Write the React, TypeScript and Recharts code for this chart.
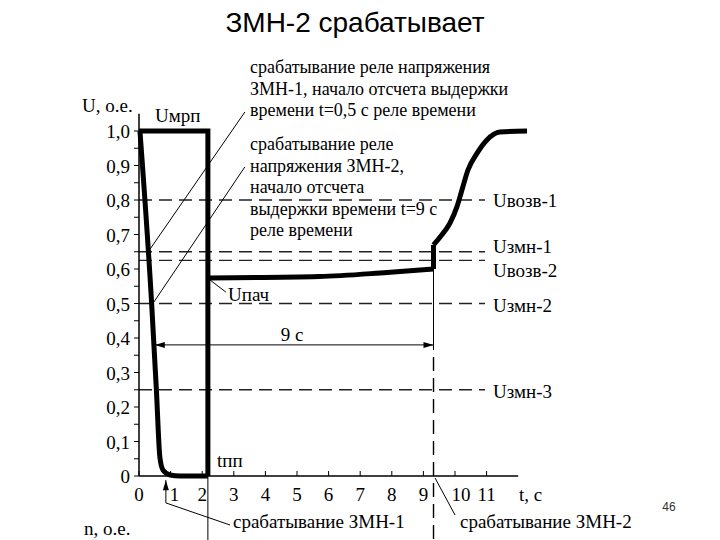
import React from 'react';
import { LineChart, Line, XAxis, YAxis, ReferenceLine } from 'recharts';

// ---- data ----
const xTicks = [0, 1, 2, 3, 4, 5, 6, 7, 8, 9, 10, 11];
const yTicks = [0, 0.05, 0.1, 0.15, 0.2, 0.25, 0.3, 0.35, 0.4, 0.45, 0.5, 0.55, 0.6, 0.65, 0.7, 0.75, 0.8, 0.85, 0.9, 0.95, 1.0];

const tPickup = 2.18; // tпп
const tTrip2 = 9.32; // срабатывание ЗМН-2
const xAxisEnd = 12;

const uDescent = [
  { t: 0.03, u: 1.0 },
  { t: 0.4, u: 0.5 },
  { t: 0.55, u: 0.25 },
  { t: 0.66, u: 0.055 },
  { t: 0.76, u: 0.017 },
  { t: 0.98, u: 0.003 },
  { t: 1.3, u: 0 },
  { t: 2.18, u: 0 },
];

const uMrpFrame = [
  { t: 0, u: 1.0 },
  { t: 2.18, u: 1.0 },
  { t: 2.18, u: 0 },
];

const uPlateau = [
  { t: 2.18, u: 0.574 },
  { t: 5.7, u: 0.578 },
  { t: 7.85, u: 0.59 },
  { t: 9.32, u: 0.6 },
];

const uJump = [
  { t: 9.32, u: 0.6 },
  { t: 9.32, u: 0.67 },
];

const uRecovery = [
  { t: 9.32, u: 0.67 },
  { t: 9.53, u: 0.693 },
  { t: 9.84, u: 0.733 },
  { t: 10.06, u: 0.78 },
  { t: 10.22, u: 0.829 },
  { t: 10.41, u: 0.887 },
  { t: 10.7, u: 0.936 },
  { t: 11.01, u: 0.974 },
  { t: 11.42, u: 0.997 },
  { t: 12.28, u: 1.0 },
];

const thresholdNames = ['Uвозв-1', 'Uзмн-1', 'Uвозв-2', 'Uзмн-2', 'Uзмн-3'];
const thresholdValues = [0.8, 0.65, 0.625, 0.5, 0.25];
const thresholdEnd = 10.95;
const delayLevel = 0.38;
const delayStart = 0.5;

// ---- styling helpers ----
const SERIF = "'Liberation Serif', 'DejaVu Serif', serif";
const SANS = "'Liberation Sans', Arial, sans-serif";
const labelBaselines = [207, 253, 277, 312, 398];

const makeArrow = (start: boolean, end: boolean) => (p: any) => {
  const { x1, y1, x2, y2 } = p;
  const dx = x2 - x1;
  const dy = y2 - y1;
  const len = Math.hypot(dx, dy) || 1;
  const ux = dx / len;
  const uy = dy / len;
  const nx = -uy;
  const ny = ux;
  const L = 10;
  const W = 3;
  const head = (px: number, py: number, sx: number, sy: number) =>
    `${px},${py} ${px - sx * L + nx * W},${py - sy * L + ny * W} ${px - sx * L - nx * W},${py - sy * L - ny * W}`;
  return (
    <g>
      <line x1={x1} y1={y1} x2={x2} y2={y2} stroke="#000" strokeWidth={1} />
      {end && <polygon points={head(x2, y2, ux, uy)} fill="#000" />}
      {start && <polygon points={head(x1, y1, -ux, -uy)} fill="#000" />}
    </g>
  );
};

const XTick = (props: any) => {
  const { x, y, payload } = props;
  const v = payload.value;
  const shift = v === 10 ? 6 : v === 1 ? 4 : 0;
  return (
    <g>
      <line x1={x} x2={x} y1={y - 5} y2={y} stroke="#000" strokeWidth={1} />
      <text x={x + shift} y={y + 25} textAnchor="middle" fontFamily={SERIF} fontSize={19} fill="#000">
        {String(v)}
      </text>
    </g>
  );
};

const YTick = (props: any) => {
  const { x, y, payload } = props;
  const v = payload.value;
  const major = Math.round(v * 100) % 10 === 0;
  const label = v === 0 ? '0' : v.toFixed(1).replace('.', ',');
  return (
    <g>
      <line x1={x - 5} x2={x} y1={y} y2={y} stroke="#000" strokeWidth={1} />
      {major && (
        <text x={x - 9} y={y + 7} textAnchor="end" fontFamily={SERIF} fontSize={19} fill="#000">
          {label}
        </text>
      )}
    </g>
  );
};

const thick = { stroke: '#000', strokeWidth: 5, dot: false, activeDot: false, isAnimationActive: false } as const;

export default function App() {
  const T = (x: number, y: number, s: string, opts: any = {}) => (
    <text
      x={x}
      y={y}
      fontFamily={opts.font || SERIF}
      fontSize={opts.size || 18}
      textAnchor={opts.anchor || 'start'}
      fill={opts.fill || '#000'}
    >
      {s}
    </text>
  );
  return (
    <div style={{ position: 'absolute', left: 0, top: 0, width: 720, height: 540, background: '#fff', overflow: 'hidden' }}>
      <LineChart width={720} height={540} margin={{ top: 113.75, right: 170.2, bottom: 34, left: 79 }}>
        <XAxis
          dataKey="t"
          type="number"
          domain={[0, 13]}
          ticks={xTicks}
          interval={0}
          tick={<XTick />}
          tickLine={false}
          axisLine={false}
          tickSize={0}
          tickMargin={0}
          height={30}
        />
        <YAxis
          type="number"
          domain={[0, 1.05]}
          ticks={yTicks}
          interval={0}
          tick={<YTick />}
          tickLine={false}
          axisLine={{ stroke: '#000', strokeWidth: 1.5 }}
          tickSize={0}
          tickMargin={0}
          width={60}
        />
        {/* x axis line */}
        <ReferenceLine segment={[{ x: 0, y: 0 }, { x: xAxisEnd, y: 0 }]} stroke="#000" strokeWidth={1.5} ifOverflow="visible" />
        {/* threshold dashed lines */}
        {thresholdValues.map((v, i) => (
          <ReferenceLine
            key={thresholdNames[i]}
            segment={[{ x: 0, y: v }, { x: thresholdEnd, y: v }]}
            stroke="#222"
            strokeWidth={1.4}
            strokeDasharray="13 7"
            ifOverflow="visible"
          />
        ))}
        {/* tпп thin continuation below the axis */}
        <ReferenceLine segment={[{ x: tPickup, y: 0 }, { x: tPickup, y: -0.2 }]} stroke="#000" strokeWidth={1} ifOverflow="visible" />
        {/* ZMN-2 trip vertical */}
        <ReferenceLine segment={[{ x: tTrip2, y: 0.6 }, { x: tTrip2, y: 0.365 }]} stroke="#000" strokeWidth={1} ifOverflow="visible" />
        <ReferenceLine
          segment={[{ x: tTrip2, y: 0.345 }, { x: tTrip2, y: -0.2 }]}
          stroke="#000"
          strokeWidth={1.4}
          strokeDasharray="14 7"
          ifOverflow="visible"
        />
        {/* 9 s delay arrow */}
        <ReferenceLine
          segment={[{ x: delayStart, y: delayLevel }, { x: tTrip2, y: delayLevel }]}
          ifOverflow="visible"
          shape={makeArrow(true, true)}
        />
        {/* leader lines */}
        <ReferenceLine segment={[{ x: 0.33, y: 0.655 }, { x: 3.35, y: 1.055 }]} stroke="#000" strokeWidth={1} ifOverflow="visible" />
        <ReferenceLine segment={[{ x: 0.44, y: 0.5 }, { x: 3.35, y: 0.896 }]} stroke="#000" strokeWidth={1} ifOverflow="visible" />
        <ReferenceLine segment={[{ x: 2.25, y: 0.568 }, { x: 2.75, y: 0.533 }]} stroke="#000" strokeWidth={1} ifOverflow="visible" />
        <ReferenceLine
          segment={[{ x: 0.85, y: -0.078 }, { x: 0.85, y: -0.012 }]}
          ifOverflow="visible"
          shape={makeArrow(false, true)}
        />
        <ReferenceLine segment={[{ x: 0.85, y: -0.078 }, { x: 2.88, y: -0.142 }]} stroke="#000" strokeWidth={1} ifOverflow="visible" />
        <ReferenceLine segment={[{ x: 9.37, y: -0.006 }, { x: 10.0, y: -0.113 }]} stroke="#000" strokeWidth={1} ifOverflow="visible" />

        {/* main voltage curves */}
        <Line data={uMrpFrame} dataKey="u" type="linear" {...thick} />
        <Line data={uDescent} dataKey="u" type="monotone" {...thick} />
        <Line data={uPlateau} dataKey="u" type="monotone" {...thick} />
        <Line data={uJump} dataKey="u" type="linear" {...thick} />
        <Line data={uRecovery} dataKey="u" type="monotone" {...thick} />
      </LineChart>

      <svg width={720} height={540} style={{ position: 'absolute', left: 0, top: 0, pointerEvents: 'none' }}>
        {T(355, 32, 'ЗМН-2 срабатывает', { font: SANS, size: 28, anchor: 'middle' })}
        {T(82, 112, 'U, о.е.', { size: 19 })}
        {T(155, 122, 'Uмрп', { size: 19 })}
        {T(250, 73, 'срабатывание реле напряжения')}
        {T(250, 95, 'ЗМН-1, начало отсчета выдержки')}
        {T(250, 116, 'времени t=0,5 с реле времени')}
        {T(250, 150, 'срабатывание реле')}
        {T(250, 172, 'напряжения ЗМН-2,')}
        {T(250, 193, 'начало отсчета')}
        {T(250, 215, 'выдержки времени t=9 с')}
        {T(250, 236, 'реле времени')}
        {thresholdNames.map((n, i) => (
          <React.Fragment key={n}>{T(493, labelBaselines[i], n, { size: 19 })}</React.Fragment>
        ))}
        {T(228, 301, 'Uпач', { size: 19 })}
        {T(217, 467, 'tпп', { size: 19 })}
        {T(292, 341, '9 с', { size: 19, anchor: 'middle' })}
        {T(519, 501, 't, с', { size: 19 })}
        {T(233, 528, 'срабатывание ЗМН-1', { size: 19 })}
        {T(460, 528, 'срабатывание ЗМН-2', { size: 19 })}
        {T(84, 535, 'n, о.е.', { size: 19 })}
        {T(669, 511, '46', { font: SANS, size: 12, anchor: 'middle', fill: '#333' })}
      </svg>
    </div>
  );
}
